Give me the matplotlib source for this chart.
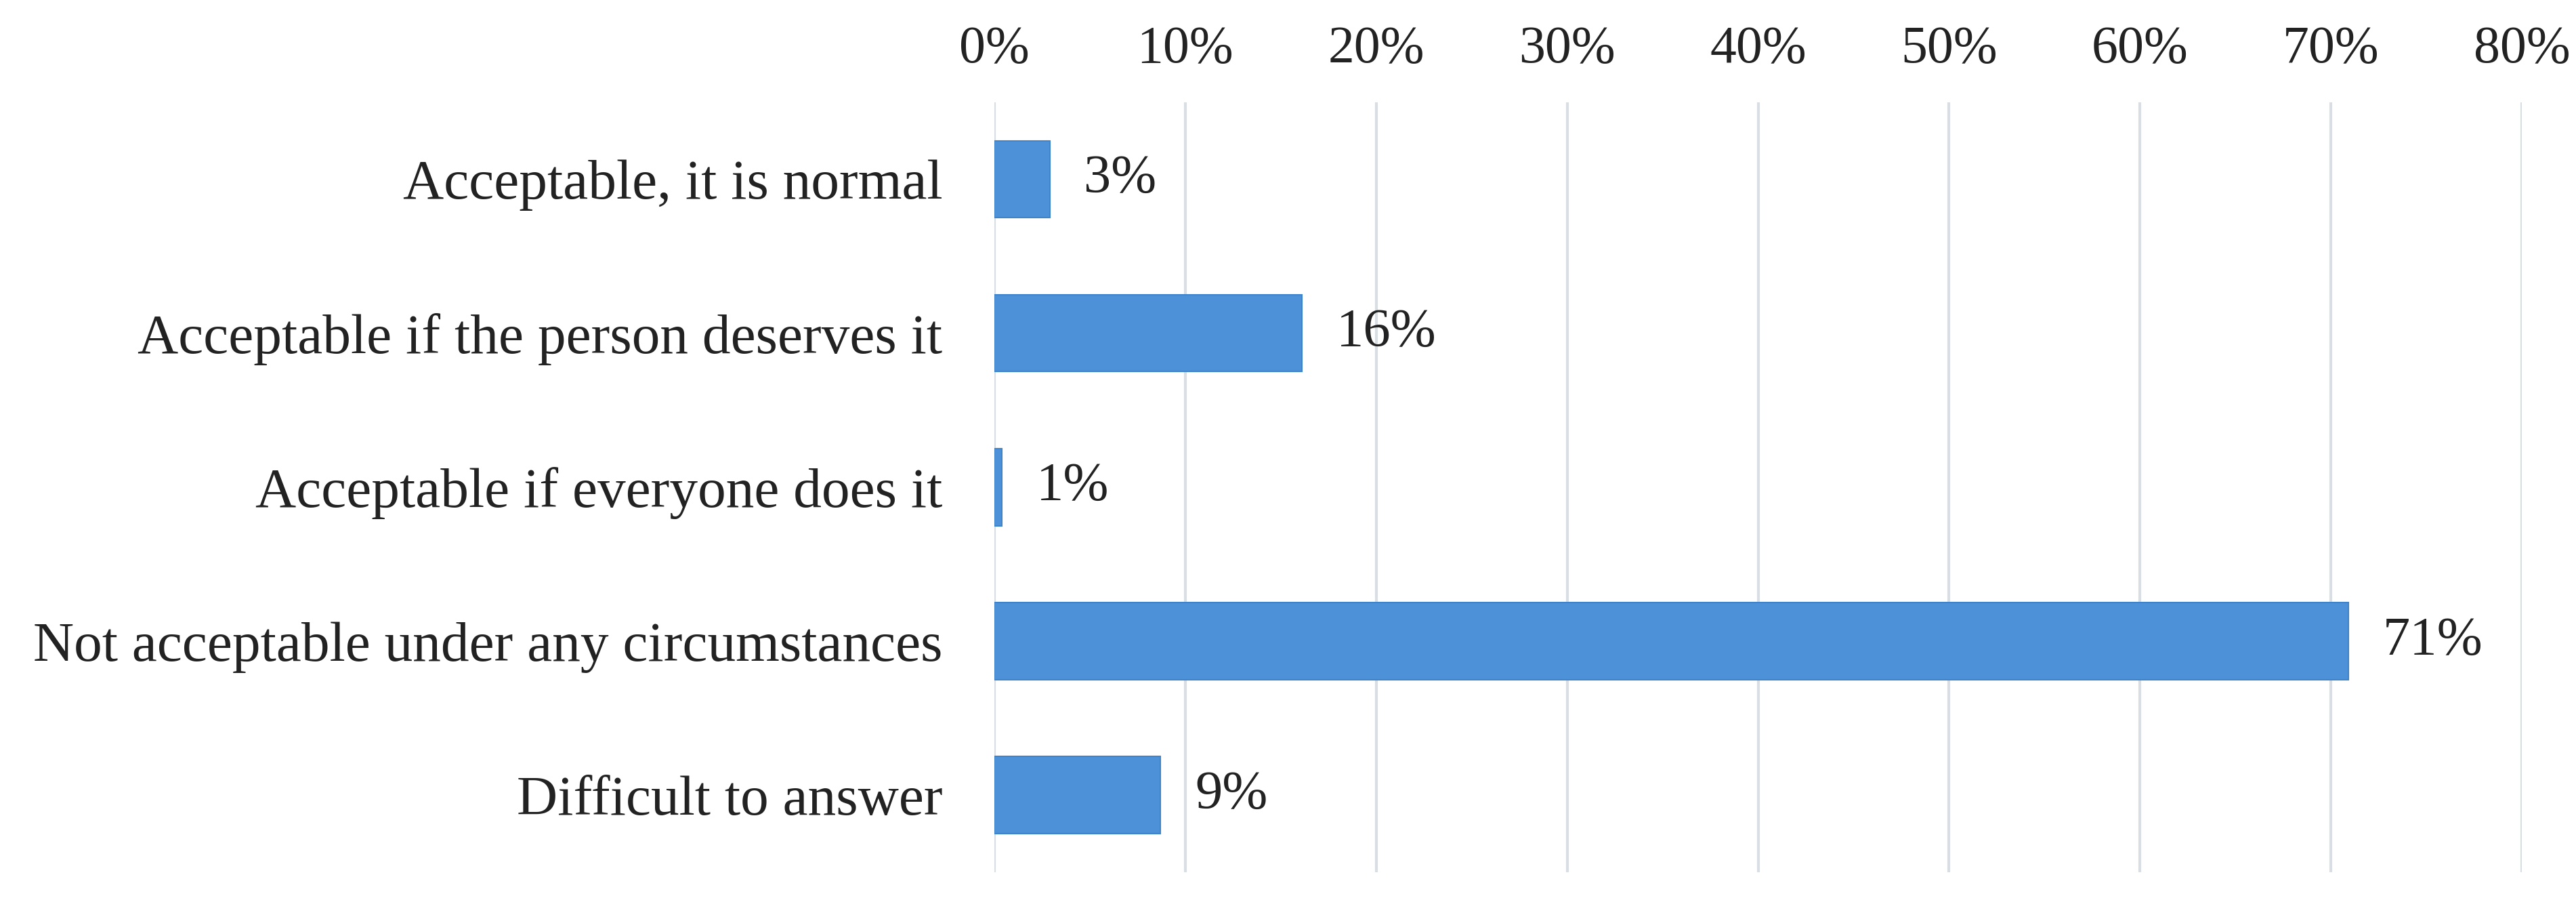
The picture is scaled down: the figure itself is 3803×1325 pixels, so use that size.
import matplotlib
matplotlib.use("Agg")
import matplotlib.pyplot as plt
from matplotlib.ticker import PercentFormatter

categories = ["Acceptable, it is normal", "Acceptable if the person deserves it",
              "Acceptable if everyone does it", "Not acceptable under any circumstances",
              "Difficult to answer"]
values = [2.9, 16.1, 0.4, 70.9, 8.7]
labels = ["3%", "16%", "1%", "71%", "9%"]

plt.rcParams['font.family'] = ['Liberation Serif', 'DejaVu Serif']
fig = plt.figure(figsize=(38.03, 13.25), dpi=100)
ax = fig.add_axes([0.386, 0.029, 0.593, 0.857])
y = list(range(len(categories)))
ax.barh(y, values, height=0.5, color="#4D92D8", edgecolor="#3F84CB", linewidth=1.5, zorder=3)
for yi, v, l in zip(y, values, labels):
    ax.text(v + 1.8, yi, l, va="center", ha="left", fontsize=58, color="#222222")
ax.set_yticks(y)
ax.set_yticklabels(categories, fontsize=60, color="#222222")
ax.invert_yaxis()
ax.set_ylim(4.5, -0.5)
ax.set_xlim(0, 80)
ax.set_xticks(range(0, 81, 10))
ax.xaxis.set_major_formatter(PercentFormatter(decimals=0))
ax.xaxis.tick_top()
ax.tick_params(axis="x", labelsize=56, length=0, pad=30, colors="#222222")
ax.tick_params(axis="y", length=0, pad=55)
ax.grid(axis="x", color="#D9DEE5", linewidth=3, zorder=0)
for s in ax.spines.values():
    s.set_visible(False)
fig.savefig("out.png", dpi=100)
